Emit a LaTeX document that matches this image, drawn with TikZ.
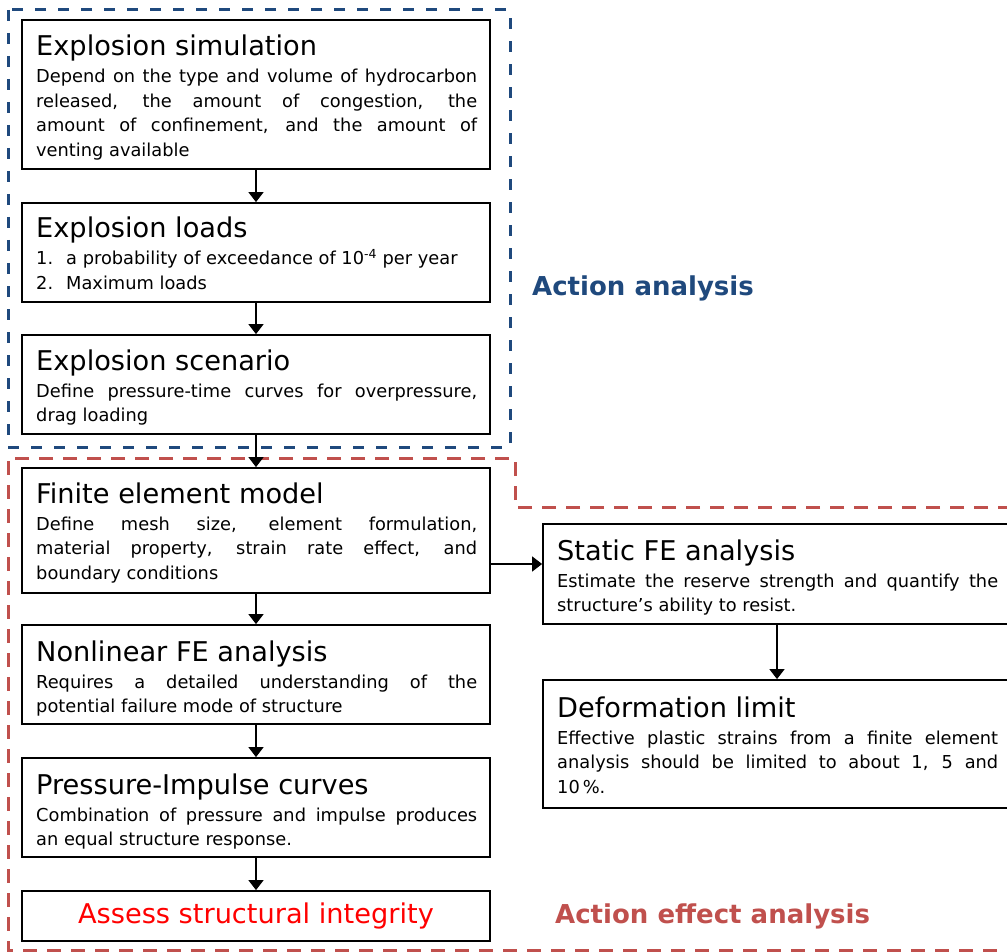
\documentclass[tikz,border=0pt]{standalone}
\usepackage{fontspec}
\setmainfont{DejaVu Sans}
\usetikzlibrary{arrows.meta}
\definecolor{actblue}{HTML}{1F497D}
\definecolor{actred}{HTML}{C0504D}
\definecolor{pured}{HTML}{FF0000}
\newcommand{\ttl}{\fontsize{27.2}{32}\selectfont}
\newcommand{\bdy}{\fontsize{17.8}{24.5}\selectfont}
\newcommand{\bodypar}[1]{\parbox[t]{441pt}{\bdy\hyphenpenalty=10000\exhyphenpenalty=10000\tolerance=9999 #1}}
\tikzset{
  x=1pt, y=-1pt,
  flowbox/.style={draw=black, line width=1.8pt, rectangle, inner sep=0pt, minimum width=468pt},
  txt/.style={anchor=base west, inner sep=0pt},
  arr/.style={line width=1.5pt, -{Triangle[length=10pt,width=15pt]}},
  bluedash/.style={draw=actblue, line width=3pt, dash pattern=on 11pt off 12pt},
  reddash/.style={draw=actred, line width=3pt, dash pattern=on 14pt off 10pt},
  lab/.style={anchor=west, inner sep=0pt, font=\fontsize{26}{30}\selectfont\bfseries}
}
\begin{document}
\begin{tikzpicture}
\useasboundingbox (0,0) rectangle (1007,952);
\clip (0,0) rectangle (1007,952);

% dashed groups
\draw[bluedash] (8,10) rectangle (510,447);
\draw[reddash] (1012,507) -- (515,507) -- (515,458) -- (8,458) -- (8,950) -- (1012,950);

% left column boxes
\node[flowbox, minimum height=149pt] (b1) at (256,94.5) {};
\node[flowbox, minimum height=99pt] (b2) at (256,252.5) {};
\node[flowbox, minimum height=99pt] (b3) at (256,384.5) {};
\node[flowbox, minimum height=125pt] (b4) at (256,530.5) {};
\node[flowbox, minimum height=99pt] (b5) at (256,674.5) {};
\node[flowbox, minimum height=99pt] (b6) at (256,807.5) {};
\node[flowbox, minimum height=50pt] (b7) at (256,916) {};

% right column boxes
\node[flowbox, minimum height=100pt] (s1) at (777,574) {};
\node[flowbox, minimum height=128pt] (s2) at (777,744) {};

% texts
\node[txt] (t1) at (36,56) {\ttl Explosion simulation};
\node[txt] (d1) at (36,83) {\bodypar{Depend on the type and volume of hydrocarbon\linebreak released, the amount of congestion, the\linebreak amount of confinement, and the amount of\linebreak venting available}};

\node[txt] (t2) at (36,238) {\ttl Explosion loads};
\node[txt] (d2) at (36,265) {\bodypar{\makebox[30pt][l]{1.}a probability of exceedance of 10\textsuperscript{-4} per year\\\makebox[30pt][l]{2.}Maximum loads}};

\node[txt] (t3) at (36,370) {\ttl Explosion scenario};
\node[txt] (d3) at (36,397) {\bodypar{Define pressure-time curves for overpressure,\linebreak drag loading}};

\node[txt] (t4) at (36,503) {\ttl Finite element model};
\node[txt] (d4) at (36,530) {\bodypar{Define mesh size, element formulation,\linebreak material property, strain rate effect, and\linebreak boundary conditions}};

\node[txt] (t5) at (36,661) {\ttl Nonlinear FE analysis};
\node[txt] (d5) at (36,688) {\bodypar{Requires a detailed understanding of the\linebreak potential failure mode of structure}};

\node[txt] (t6) at (36,794) {\ttl Pressure-Impulse curves};
\node[txt] (d6) at (36,821) {\bodypar{Combination of pressure and impulse produces\linebreak an equal structure response.}};

\node[inner sep=0pt, text=pured, font=\ttl] (t7) at (b7.center) {Assess structural integrity};

\node[txt] (t8) at (557,560) {\ttl Static FE analysis};
\node[txt] (d8) at (557,587) {\bodypar{Estimate the reserve strength and quantify the\linebreak structure’s ability to resist.}};

\node[txt] (t9) at (557,717) {\ttl Deformation limit};
\node[txt] (d9) at (557,744) {\bodypar{Effective plastic strains from a finite element\linebreak analysis should be limited to about 1, 5 and\linebreak 10\,\%.}};

% labels
\node[lab, text=actblue] (la) at (532,288) {Action analysis};
\node[lab, text=actred] (lb) at (555,916) {Action effect analysis};

% connectors
\draw[arr] (b1.south) -- (b2.north);
\draw[arr] (b2.south) -- (b3.north);
\draw[arr] (b3.south) -- (b4.north);
\draw[arr] (b4.south) -- (b5.north);
\draw[arr] (b5.south) -- (b6.north);
\draw[arr] (b6.south) -- (b7.north);
\coordinate (hy) at (0,564);
\draw[arr] (b4.east |- hy) -- (s1.west |- hy);
\draw[arr] (s1.south) -- (s2.north);
\end{tikzpicture}
\end{document}
